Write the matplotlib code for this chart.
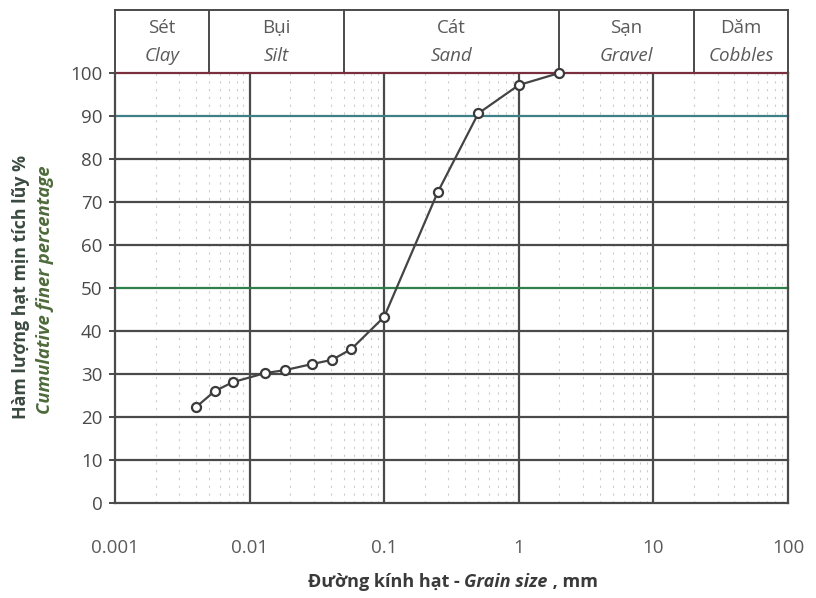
import matplotlib
matplotlib.use("Agg")
import matplotlib.pyplot as plt
import numpy as np
from matplotlib.offsetbox import TextArea, HPacker, AnchoredOffsetbox

plt.rcParams['font.family'] = ['Open Sans', 'DejaVu Sans']

# Grain-size distribution (sieve + hydrometer)
grain_size_mm = [0.004, 0.0055, 0.0075, 0.013, 0.0183, 0.029, 0.041, 0.057,
                 0.1, 0.25, 0.5, 1.0, 2.0]
percent_finer = [22.3, 26.0, 28.1, 30.2, 30.9, 32.3, 33.3, 35.8,
                 43.3, 72.3, 90.6, 97.2, 100.0]

# Soil fraction classes and their boundaries (mm)
class_bounds = [0.001, 0.005, 0.05, 2.0, 20.0, 100.0]
class_vi = ["Sét", "Bụi", "Cát", "Sạn", "Dăm"]
class_en = ["Clay", "Silt", "Sand", "Gravel", "Cobbles"]

x_ticks = [0.001, 0.01, 0.1, 1, 10, 100]
x_tick_labels = ["0.001", "0.01", "0.1", "1", "10", "100"]
y_ticks = list(range(0, 101, 10))

W, H = 816, 598
fig = plt.figure(figsize=(W / 100, H / 100), dpi=100)

left, right = 115 / W, 788 / W
bottom, top = 1 - 503 / H, 1 - 73 / H
hdr = fig.add_axes([left, top, right - left, (73 - 10) / H])
ax = fig.add_axes([left, bottom, right - left, top - bottom])
ax.patch.set_alpha(0)

grid_dark = "#4a4a4a"
text_gray = "#5a5a5a"

ax.set_xscale("log")
ax.set_xlim(0.001, 100)
ax.set_ylim(0, 100)

# minor vertical grid (2..9 of each decade)
for dec in [0.001, 0.01, 0.1, 1, 10]:
    for k in range(2, 10):
        ax.axvline(dec * k, color="#cccccc", lw=0.8, ls=(0, (2, 5)), zorder=1)

# major vertical grid
for xv in x_ticks[1:-1]:
    ax.axvline(xv, color=grid_dark, lw=1.6, zorder=2)

# horizontal grid, with highlighted lines
hcolors = {100: "#7a2f3f", 90: "#3f7f86", 50: "#2f7f4a"}
for yv in y_ticks[1:]:
    ax.axhline(yv, color=hcolors.get(yv, grid_dark), lw=1.6, zorder=2,
               clip_on=False)

for side in ["left", "bottom", "right"]:
    ax.spines[side].set_color(grid_dark)
    ax.spines[side].set_linewidth(1.6)
ax.spines["top"].set_visible(False)

ax.plot(grain_size_mm, percent_finer, color="#444444", lw=1.6, zorder=4,
        marker="o", ms=6.5, mfc="white", mec="#3a3a3a", mew=1.6, clip_on=False)

ax.set_xticks(x_ticks)
ax.set_xticklabels(x_tick_labels)
ax.xaxis.set_minor_locator(matplotlib.ticker.NullLocator())
ax.set_yticks(y_ticks)
ax.tick_params(axis="x", length=0, pad=26, labelsize=13.5, labelcolor=text_gray)
ax.tick_params(axis="y", length=4, width=1.4, color=grid_dark, pad=5,
               labelsize=13.5, labelcolor="#4a4a4a")

# y-axis title in two lines
fig.text(21 / W, 1 - 287 / H, "Hàm lượng hạt mịn tích lũy %", rotation=90,
         ha="center", va="center", fontsize=12.8, fontweight="bold", color="#3b4a40")
fig.text(45 / W, 1 - 290 / H, "Cumulative finer percentage", rotation=90,
         ha="center", va="center", fontsize=13.3, fontweight="bold",
         fontstyle="italic", color="#4e6a3a")

# x-axis title with mixed styles
lbl = dict(fontsize=13, fontweight="bold", color="#3a3a3a")
parts = [
    TextArea("Đường kính hạt - ", textprops=lbl),
    TextArea("Grain size", textprops=dict(lbl, fontstyle="italic")),
    TextArea(" , mm", textprops=lbl),
]
box = HPacker(children=parts, align="baseline", pad=0, sep=0)
anch = AnchoredOffsetbox(loc="center", child=box, pad=0, frameon=False,
                         bbox_to_anchor=(453 / W, 1 - 582 / H),
                         bbox_transform=fig.transFigure, borderpad=0)
fig.add_artist(anch)

# classification header
hdr.set_xscale("log")
hdr.set_xlim(0.001, 100)
hdr.set_ylim(0, 1)
hdr.set_xticks([])
hdr.set_yticks([])
hdr.xaxis.set_minor_locator(matplotlib.ticker.NullLocator())
for s in hdr.spines.values():
    s.set_color(grid_dark)
    s.set_linewidth(1.4)
hdr.spines["bottom"].set_visible(False)
for b in class_bounds[1:-1]:
    hdr.axvline(b, color=grid_dark, lw=1.4)
for i in range(len(class_vi)):
    xc = np.sqrt(class_bounds[i] * class_bounds[i + 1])
    hdr.text(xc, 0.72, class_vi[i], ha="center", va="center", fontsize=13.5, color=text_gray)
    hdr.text(xc, 0.27, class_en[i], ha="center", va="center", fontsize=13.5,
             fontstyle="italic", color=text_gray)

fig.savefig("out.png", dpi=100)
